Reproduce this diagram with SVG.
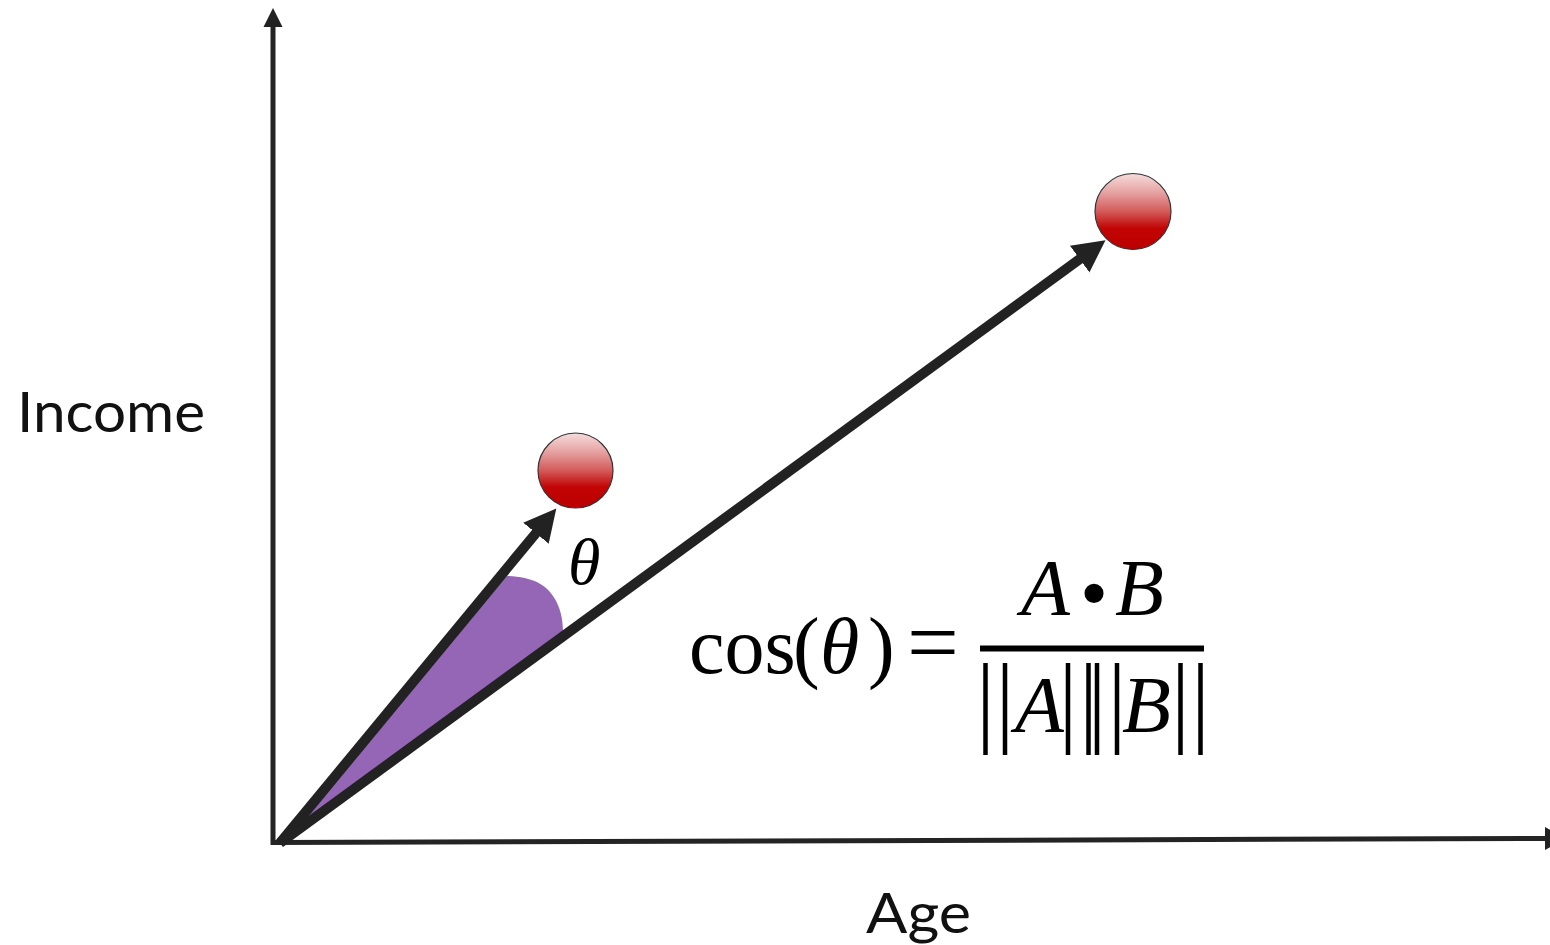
<svg xmlns="http://www.w3.org/2000/svg" width="1550" height="945" viewBox="0 0 1550 945">
  <style>
    .axis { stroke: #242424; stroke-width: 5; fill: none; }
    .vec { stroke: #222; stroke-width: 10; fill: none; }
    .head { fill: #222; }
    .lbl { font-family: Lato, "Open Sans", "Liberation Sans", sans-serif; font-size: 56px; fill: #111; }
    .math { font-family: "Liberation Serif", "DejaVu Serif", serif; font-size: 80px; fill: #000; }
    .it { font-style: italic; }
    .bar { stroke: #000; stroke-width: 4.5; }
    .ball { fill: url(#ballGrad); stroke: #333; stroke-width: 1.2; }
  </style>
  <defs>
    <linearGradient id="ballGrad" x1="0" y1="0" x2="0" y2="1">
      <stop offset="0" stop-color="#f6dcdc"/>
      <stop offset="0.25" stop-color="#e6a2a2"/>
      <stop offset="0.5" stop-color="#d45a5a"/>
      <stop offset="0.72" stop-color="#c20404"/>
      <stop offset="1" stop-color="#bb0000"/>
    </linearGradient>
    <marker id="arrow" markerUnits="userSpaceOnUse" markerWidth="36" markerHeight="36" refX="2" refY="17" orient="auto" viewBox="0 0 36 36">
      <path class="head" d="M0,0.5 L32,17 L0,33.5 Z"/>
    </marker>
  </defs>

  <g id="axes">
    <line class="axis" x1="273" y1="845" x2="273" y2="24"/>
    <polygon class="head" points="273,8 263.5,27 282.5,27"/>
    <line class="axis" x1="271" y1="842.5" x2="1546" y2="838.5"/>
    <polygon class="head" points="1545,827 1545,850 1566,838.5"/>
  </g>

  <g id="angle">
    <path d="M280,843 L507,576 C533,577 546,585 553,596 C560,606 563,618 563,633 Z" fill="#9566b5"/>
  </g>

  <g id="connectors">
    <line class="vec" x1="280" y1="843" x2="537.2" y2="531.6" marker-end="url(#arrow)"/>
    <line class="vec" x1="280" y1="843" x2="1081.3" y2="257.9" marker-end="url(#arrow)"/>
  </g>

  <g id="pointA">
    <circle class="ball" cx="575.5" cy="470.5" r="37.5"/>
  </g>
  <g id="pointB">
    <circle class="ball" cx="1133" cy="211.5" r="38"/>
  </g>

  <g id="theta-label">
    <text class="math it" x="568" y="584" style="font-size:66px">θ</text>
  </g>

  <g id="income-label">
    <text class="lbl" x="17" y="432" textLength="188" lengthAdjust="spacingAndGlyphs">Income</text>
  </g>
  <g id="age-label">
    <text class="lbl" x="866" y="933" textLength="105" lengthAdjust="spacingAndGlyphs">Age</text>
  </g>

  <g id="formula">
    <text class="math" x="689" y="673">cos</text>
    <text class="math" x="793" y="673">(</text>
    <text class="math it" x="820" y="673">θ</text>
    <text class="math" x="868" y="673">)</text>
    <text class="math" x="907" y="673" style="font-size:92px">=</text>
    <line x1="980" y1="648.5" x2="1204" y2="648.5" stroke="#000" stroke-width="6"/>
    <text class="math it" x="1021" y="615">A</text>
    <text class="math" x="1080" y="620">•</text>
    <text class="math it" x="1115" y="615">B</text>
    <text class="math it" x="1015" y="732">A</text>
    <text class="math it" x="1122" y="732">B</text>
    <line class="bar" x1="985.5" y1="663" x2="985.5" y2="755"/>
    <line class="bar" x1="1005" y1="663" x2="1005" y2="755"/>
    <line class="bar" x1="1068" y1="663" x2="1068" y2="755"/>
    <line class="bar" x1="1088.5" y1="663" x2="1088.5" y2="755"/>
    <line class="bar" x1="1097" y1="663" x2="1097" y2="755"/>
    <line class="bar" x1="1117" y1="663" x2="1117" y2="755"/>
    <line class="bar" x1="1180.5" y1="663" x2="1180.5" y2="755"/>
    <line class="bar" x1="1200.5" y1="663" x2="1200.5" y2="755"/>
  </g>
</svg>
